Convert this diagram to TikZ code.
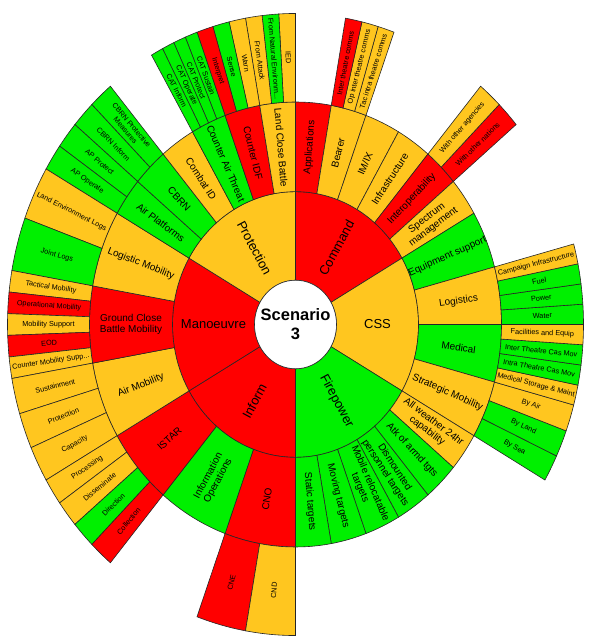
\documentclass[tikz,border=0pt]{standalone}
\usepackage{fontspec}
\setmainfont{Liberation Sans}
\definecolor{ragred}{RGB}{255,0,0}
\definecolor{ragamber}{RGB}{255,198,31}
\definecolor{raggreen}{RGB}{0,240,0}
\tikzset{
  wedge/.style={draw=black!85, line width=0.6pt},
  lvlone/.style={font=\fontsize{13}{15}\selectfont, align=center, inner sep=0pt},
  lvltwo/.style={font=\fontsize{10}{11}\selectfont, align=center, inner sep=0pt},
  lvlthree/.style={font=\fontsize{7.3}{8}\selectfont, align=center, inner sep=0pt},
}
% vertical stretch of the rings
\newcommand\ringsy{1.08}
% outline of one annular segment: from angle, to angle, inner radius, outer radius
\newcommand\segpath[4]{(#1:#3) -- (#1:#4) arc[start angle=#1, end angle=#2, radius=#4]
    -- (#2:#3) arc[start angle=#2, end angle=#1, radius=#3] -- cycle}
% one annular segment with a radial label, clipped to the segment:
% name, from angle, to angle, inner radius, outer radius, colour, text, text style
\newcommand\sunseg[8]{%
  \filldraw[wedge, fill=#6] \segpath{#2}{#3}{#4}{#5};
  \pgfmathsetmacro\segmid{(#2+#3)/2}%
  \pgfmathsetmacro\segrad{(#4+#5)/2}%
  \pgfmathsetmacro\segrot{atan2(\ringsy*sin(\segmid),cos(\segmid))}%
  \pgfmathsetmacro\segrot{\segrot>90 ? \segrot-180 : (\segrot<-90 ? \segrot+180 : \segrot)}%
  \begin{scope}
    \clip \segpath{#2}{#3}{#4}{#5};
    \node[#8, rotate=\segrot] (#1) at (\segmid:\segrad) {#7};
  \end{scope}
}
\begin{document}
\begin{tikzpicture}[x=1pt, y=1pt]
\useasboundingbox (0,0) rectangle (592,639);
\begin{scope}[shift={(295.5,314.5)}, yscale=\ringsy]
  % ---- inner ring: capability areas
  \sunseg{c-command}{30}{90}{41}{123}{ragred}{Command}{lvlone}
  \sunseg{c-css}{-30}{30}{41}{123}{ragamber}{CSS}{lvlone}
  \sunseg{c-fire}{-90}{-30}{41}{123}{raggreen}{Firepower}{lvlone}
  \sunseg{c-inform}{210}{270}{41}{123}{ragred}{Inform}{lvlone}
  \sunseg{c-manoeuvre}{150}{210}{41}{123}{ragred}{Manoeuvre}{lvlone}
  \sunseg{c-protection}{90}{150}{41}{123}{ragamber}{Protection}{lvlone}

  % ---- middle ring
  \sunseg{m-app}{80}{90}{123}{206}{ragred}{Applications}{lvltwo}
  \sunseg{m-bearer}{70}{80}{123}{206}{ragamber}{Bearer}{lvltwo}
  \sunseg{m-imix}{60}{70}{123}{206}{ragamber}{IM/IX}{lvltwo}
  \sunseg{m-infra}{50}{60}{123}{206}{ragamber}{Infrastructure}{lvltwo}
  \sunseg{m-interop}{40}{50}{123}{206}{ragred}{Interoperability}{lvltwo}
  \sunseg{m-spectrum}{30}{40}{123}{206}{ragamber}{Spectrum\\management}{lvltwo}
  \sunseg{m-equip}{15}{30}{123}{206}{raggreen}{Equipment support}{lvltwo}
  \sunseg{m-logistics}{0}{15}{123}{206}{ragamber}{Logistics}{lvltwo}
  \sunseg{m-medical}{-15}{0}{123}{206}{raggreen}{Medical}{lvltwo}
  \sunseg{m-stratmob}{-30}{-15}{123}{206}{ragamber}{Strategic Mobility}{lvltwo}
  \sunseg{m-allweather}{-40}{-30}{123}{206}{ragamber}{All weather 24hr\\capability}{lvltwo}
  \sunseg{m-atk}{-50}{-40}{123}{206}{raggreen}{Atk of armd tgts}{lvltwo}
  \sunseg{m-dismounted}{-60}{-50}{123}{206}{raggreen}{Dismounted\\personnel targets}{lvltwo}
  \sunseg{m-mobile}{-70}{-60}{123}{206}{raggreen}{Mobile relocatable\\targets}{lvltwo}
  \sunseg{m-moving}{-80}{-70}{123}{206}{raggreen}{Moving targets}{lvltwo}
  \sunseg{m-static}{-90}{-80}{123}{206}{raggreen}{Static targets}{lvltwo}
  \sunseg{m-cno}{250}{270}{123}{206}{ragred}{CNO}{lvltwo}
  \sunseg{m-infoops}{230}{250}{123}{206}{raggreen}{Information\\Operations}{lvltwo}
  \sunseg{m-istar}{210}{230}{123}{206}{ragred}{ISTAR}{lvltwo}
  \sunseg{m-airmob}{190}{210}{123}{206}{ragamber}{Air Mobility}{lvltwo}
  \sunseg{m-gcbm}{170}{190}{123}{206}{ragred}{Ground Close\\Battle Mobility}{lvltwo}
  \sunseg{m-logmob}{150}{170}{123}{206}{ragamber}{Logistic Mobility}{lvltwo}
  \sunseg{m-airplat}{140}{150}{123}{206}{raggreen}{Air Platforms}{lvltwo}
  \sunseg{m-cbrn}{130}{140}{123}{206}{raggreen}{CBRN}{lvltwo}
  \sunseg{m-combatid}{120}{130}{123}{206}{ragamber}{Combat ID}{lvltwo}
  \sunseg{m-cat}{110}{120}{123}{206}{raggreen}{Counter Air Threat}{lvltwo}
  \sunseg{m-cidf}{100}{110}{123}{206}{ragred}{Counter IDF}{lvltwo}
  \sunseg{m-lcb}{90}{100}{123}{206}{ragamber}{Land Close Battle}{lvltwo}

  % ---- outer ring
  \sunseg{o-ied}{90}{93.333}{206}{288}{ragamber}{IED}{lvlthree}
  \sunseg{o-natenv}{93.333}{96.667}{206}{288}{raggreen}{From Natural Environm...}{lvlthree}
  \sunseg{o-attack}{96.667}{100}{206}{288}{ragamber}{From Attack}{lvlthree}
  \sunseg{o-warn}{100}{103.333}{206}{288}{ragamber}{Warn}{lvlthree}
  \sunseg{o-sense}{103.333}{106.667}{206}{288}{raggreen}{Sense}{lvlthree}
  \sunseg{o-interpret}{106.667}{110}{206}{288}{ragred}{Interpret}{lvlthree}
  \sunseg{o-catsus}{110}{112.5}{206}{288}{raggreen}{CAT Sustain}{lvlthree}
  \sunseg{o-catpro}{112.5}{115}{206}{288}{raggreen}{CAT Protect}{lvlthree}
  \sunseg{o-catope}{115}{117.5}{206}{288}{raggreen}{CAT Operate}{lvlthree}
  \sunseg{o-catinf}{117.5}{120}{206}{288}{raggreen}{CAT Inform}{lvlthree}
  \sunseg{o-cbrnpm}{130}{135}{206}{288}{raggreen}{CBRN Protective\\Measures}{lvlthree}
  \sunseg{o-cbrninf}{135}{140}{206}{288}{raggreen}{CBRN Inform}{lvlthree}
  \sunseg{o-approt}{140}{145}{206}{288}{raggreen}{AP Protect}{lvlthree}
  \sunseg{o-apop}{145}{150}{206}{288}{raggreen}{AP Operate}{lvlthree}
  \sunseg{o-landenv}{150}{160}{206}{288}{ragamber}{Land Environment Logs}{lvlthree}
  \sunseg{o-jointlogs}{160}{170}{206}{288}{raggreen}{Joint Logs}{lvlthree}
  \sunseg{o-tacmob}{170}{174}{206}{288}{ragamber}{Tactical Mobility}{lvlthree}
  \sunseg{o-opmob}{174}{178}{206}{288}{ragred}{Operational Mobility}{lvlthree}
  \sunseg{o-mobsup}{178}{182}{206}{288}{ragamber}{Mobility Support}{lvlthree}
  \sunseg{o-eod}{182}{186}{206}{288}{ragred}{EOD}{lvlthree}
  \sunseg{o-cmobsup}{186}{190}{206}{288}{ragamber}{Counter Mobility Supp...}{lvlthree}
  \sunseg{o-sustain}{190}{196.667}{206}{288}{ragamber}{Sustainment}{lvlthree}
  \sunseg{o-protect}{196.667}{203.333}{206}{288}{ragamber}{Protection}{lvlthree}
  \sunseg{o-capacity}{203.333}{210}{206}{288}{ragamber}{Capacity}{lvlthree}
  \sunseg{o-process}{210}{215}{206}{288}{ragamber}{Processing}{lvlthree}
  \sunseg{o-dissem}{215}{220}{206}{288}{ragamber}{Disseminate}{lvlthree}
  \sunseg{o-direct}{220}{225}{206}{288}{raggreen}{Direction}{lvlthree}
  \sunseg{o-collect}{225}{230}{206}{288}{ragred}{Collection}{lvlthree}
  \sunseg{o-cne}{250}{260}{206}{288}{ragred}{CNE}{lvlthree}
  \sunseg{o-cnd}{260}{270}{206}{288}{ragamber}{CND}{lvlthree}
  \sunseg{o-bysea}{-30}{-25}{206}{288}{raggreen}{By Sea}{lvlthree}
  \sunseg{o-byland}{-25}{-20}{206}{288}{raggreen}{By Land}{lvlthree}
  \sunseg{o-byair}{-20}{-15}{206}{288}{ragamber}{By Air}{lvlthree}
  \sunseg{o-medstore}{-15}{-11.25}{206}{288}{ragamber}{Medical Storage \& Maint}{lvlthree}
  \sunseg{o-intracas}{-11.25}{-7.5}{206}{288}{raggreen}{Intra Theatre Cas Mov}{lvlthree}
  \sunseg{o-intercas}{-7.5}{-3.75}{206}{288}{raggreen}{Inter Theatre Cas Mov}{lvlthree}
  \sunseg{o-facil}{-3.75}{0}{206}{288}{ragamber}{Facilities and Equip}{lvlthree}
  \sunseg{o-water}{0}{3.75}{206}{288}{raggreen}{Water}{lvlthree}
  \sunseg{o-power}{3.75}{7.5}{206}{288}{raggreen}{Power}{lvlthree}
  \sunseg{o-fuel}{7.5}{11.25}{206}{288}{raggreen}{Fuel}{lvlthree}
  \sunseg{o-campaign}{11.25}{15}{206}{288}{ragamber}{Campaign Infrastructure}{lvlthree}
  \sunseg{o-nations}{40}{45}{206}{288}{ragred}{With other nations}{lvlthree}
  \sunseg{o-agencies}{45}{50}{206}{288}{ragamber}{With other agencies}{lvlthree}
  \sunseg{o-taccomms}{70}{73.333}{206}{288}{ragamber}{Tac intra theatre comms}{lvlthree}
  \sunseg{o-opcomms}{73.333}{76.667}{206}{288}{ragamber}{Op inter theatre comms}{lvlthree}
  \sunseg{o-intercomms}{76.667}{80}{206}{288}{ragred}{Inter theatre comms}{lvlthree}

  % ---- centre disc
  \filldraw[wedge, fill=white] (0,0) circle[radius=41];
  \node[font=\bfseries\fontsize{16.5}{19}\selectfont, align=center, inner sep=0pt] (centre) at (0,0) {Scenario\\3};
\end{scope}
\end{tikzpicture}
\end{document}
